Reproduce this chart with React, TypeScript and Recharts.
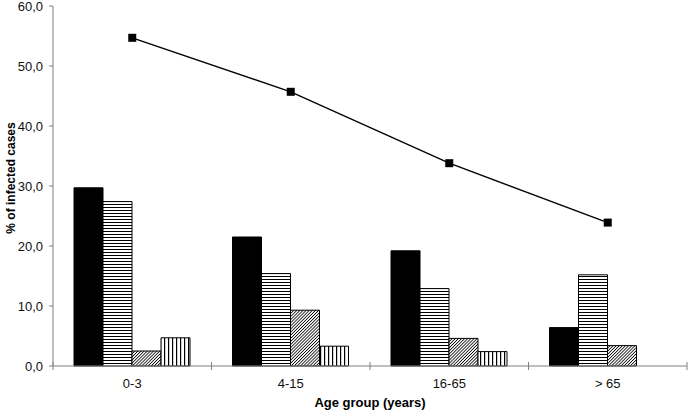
import React from 'react';
import { ComposedChart, Bar, Line, XAxis, YAxis } from 'recharts';

const categories = ['0-3', '4-15', '16-65', '> 65'];
const solidValues = [29.7, 21.5, 19.2, 6.4];
const hStripeValues = [27.4, 15.4, 12.9, 15.2];
const diagValues = [2.5, 9.3, 4.6, 3.4];
const vStripeValues = [4.7, 3.3, 2.4, null];
const lineValues = [54.7, 45.7, 33.8, 23.9];
const yTicks = [0, 10, 20, 30, 40, 50, 60];

const data = categories.map((name, i) => ({
  name,
  solid: solidValues[i],
  hstripe: hStripeValues[i],
  diag: diagValues[i],
  vstripe: vStripeValues[i],
  line: lineValues[i],
}));

const FONT = '"Liberation Sans", Arial, sans-serif';
const AXIS_GREY = '#808080';

// category label in the middle, tick marks on the category borders
const XTick = (props: any) => {
  const { x, y, payload, index } = props;
  const half = payload.offset || 0;
  const isLast = index === categories.length - 1;
  return (
    <g>
      <line x1={x - half} y1={y - 4} x2={x - half} y2={y + 4} stroke={AXIS_GREY} strokeWidth={1} />
      {isLast && (
        <line x1={x + half} y1={y - 4} x2={x + half} y2={y + 4} stroke={AXIS_GREY} strokeWidth={1} />
      )}
      <text x={x} y={y + 22} textAnchor="middle" fontSize={13} fontFamily={FONT} fill="#111">
        {payload.value}
      </text>
    </g>
  );
};

const SquareDot = (props: any) => {
  const { cx, cy, index } = props;
  if (cx == null || cy == null) return null;
  return <rect key={`sq-${index}`} x={cx - 4} y={cy - 4} width={8} height={8} fill="#000" />;
};

export default function App() {
  return (
    <div style={{ position: 'absolute', left: 0, top: 0, width: 689, height: 414, background: '#fff' }}>
      <ComposedChart
        width={689}
        height={414}
        data={data}
        margin={{ top: 6, right: 2, left: 0, bottom: 0 }}
        barCategoryGap={21}
        barGap={0}
      >
        <defs>
          <pattern id="hstripe" width="4" height="3" patternUnits="userSpaceOnUse">
            <rect width="4" height="3" fill="#fff" />
            <line x1="0" y1="0.5" x2="4" y2="0.5" stroke="#000" strokeWidth="1" />
          </pattern>
          <pattern id="diag" width="2.2" height="2.2" patternUnits="userSpaceOnUse" patternTransform="rotate(45)">
            <rect width="2.2" height="2.2" fill="#fff" />
            <line x1="0.4" y1="0" x2="0.4" y2="2.2" stroke="#000" strokeWidth="0.8" />
          </pattern>
          <pattern id="vstripe" width="4" height="4" patternUnits="userSpaceOnUse">
            <rect width="4" height="4" fill="#fff" />
            <line x1="0.6" y1="0" x2="0.6" y2="4" stroke="#000" strokeWidth="1.2" />
          </pattern>
        </defs>
        <XAxis
          dataKey="name"
          height={48}
          axisLine={{ stroke: AXIS_GREY }}
          tickLine={false}
          tickSize={0}
          tickMargin={0}
          interval={0}
          tick={<XTick />}
          label={(p: any) => {
            const vb = p.viewBox || {};
            return (
              <text
                x={vb.x + vb.width / 2}
                y={407}
                textAnchor="middle"
                fontSize={13}
                fontWeight="bold"
                fontFamily={FONT}
                fill="#000"
              >
                Age group (years)
              </text>
            );
          }}
        />
        <YAxis
          width={53}
          domain={[0, 60]}
          ticks={yTicks}
          interval={0}
          axisLine={{ stroke: AXIS_GREY }}
          tickLine={{ stroke: AXIS_GREY }}
          tickSize={4}
          tickMargin={6}
          tick={{ fontSize: 13, fontFamily: FONT, fill: '#111' }}
          tickFormatter={(v: number) => v.toFixed(1).replace('.', ',')}
          label={() => {
            const cy = 178;
            return (
              <text
                x={15}
                y={cy}
                transform={`rotate(-90, 15, ${cy})`}
                textAnchor="middle"
                fontSize={12}
                fontWeight="bold"
                fontFamily={FONT}
                fill="#000"
              >
                % of infected cases
              </text>
            );
          }}
        />
        <Bar dataKey="solid" fill="#000" stroke="#000" strokeWidth={1} isAnimationActive={false} />
        <Bar dataKey="hstripe" fill="url(#hstripe)" stroke="#000" strokeWidth={1} isAnimationActive={false} />
        <Bar dataKey="diag" fill="url(#diag)" stroke="#000" strokeWidth={1} isAnimationActive={false} />
        <Bar dataKey="vstripe" fill="url(#vstripe)" stroke="#000" strokeWidth={1} isAnimationActive={false} />
        <Line
          dataKey="line"
          stroke="#000"
          strokeWidth={1.4}
          dot={<SquareDot />}
          activeDot={false}
          isAnimationActive={false}
        />
      </ComposedChart>
    </div>
  );
}
